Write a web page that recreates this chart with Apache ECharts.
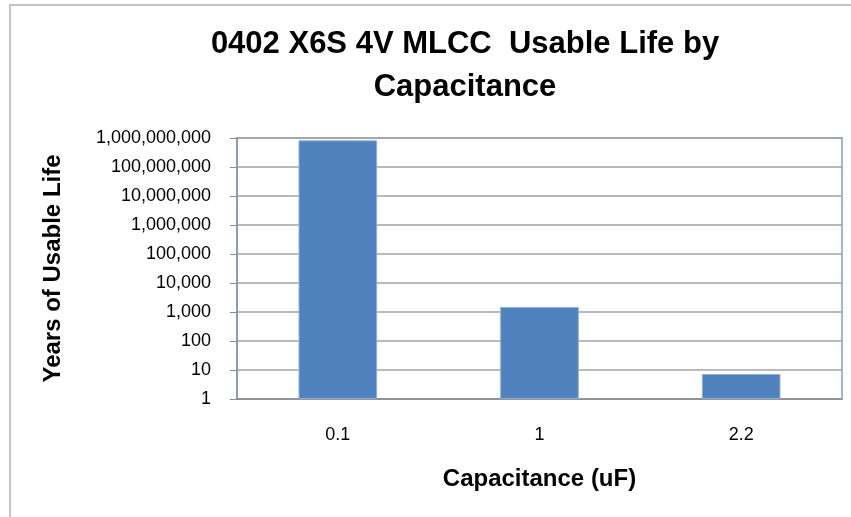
<!DOCTYPE html>
<html>
<head>
<meta charset="utf-8">
<script src="https://cdn.jsdelivr.net/npm/echarts@6/dist/echarts.min.js"></script>
<style>
    html, body { margin: 0; padding: 0; background: #fff; }
    #main { width: 851px; height: 517px; }
</style>
</head>
<body>
<div id="main"></div>
<script>
let categories = ['0.1', '1', '2.2'] // 电容 uF
let lifeYears = [830000000, 1500, 7.3] // 可用年数
let yMin = 1
let yMax = 1000000000

function renderChart() {
    var chartDom = document.getElementById('main')
    var myChart = echarts.init(chartDom)
    var font = 'Liberation Sans, Arial, sans-serif'
    var option = {
        backgroundColor: '#fff',
        animation: false,
        title: {
            text: '0402 X6S 4V MLCC  Usable Life by\nCapacitance',
            left: 460,
            top: 18,
            textAlign: 'center',
            textStyle: {
                fontFamily: font,
                fontSize: 31,
                fontWeight: 'bold',
                lineHeight: 43,
                color: '#000',
            },
        },
        graphic: [
            {
                type: 'rect',
                shape: { x: 10, y: 5, width: 900, height: 600 },
                style: { fill: 'none', stroke: '#c4c4c4', lineWidth: 2 },
                silent: true,
            },
        ],
        grid: {
            left: 237,
            top: 138,
            right: 9,
            bottom: 118,
            show: true,
            borderColor: '#9db8da',
            borderWidth: 2,
        },
        xAxis: {
            type: 'category',
            data: categories,
            name: 'Capacitance (uF)',
            nameLocation: 'middle',
            nameGap: 68,
            nameTextStyle: {
                fontFamily: font,
                fontSize: 24,
                fontWeight: 'bold',
                color: '#000',
            },
            axisLine: { lineStyle: { color: '#8c8c8c', width: 1.5 } },
            axisTick: { show: false },
            axisLabel: {
                fontFamily: font,
                fontSize: 18,
                color: '#000',
                margin: 27,
            },
        },
        yAxis: {
            type: 'log',
            logBase: 10,
            min: yMin,
            max: yMax,
            name: 'Years of Usable Life',
            nameLocation: 'middle',
            nameGap: 172,
            nameTextStyle: {
                fontFamily: font,
                fontSize: 24,
                fontWeight: 'bold',
                color: '#000',
            },
            axisLine: { show: true, lineStyle: { color: '#8a9bb3', width: 2 } },
            axisTick: { show: true, length: 7, lineStyle: { color: '#8c8c8c' } },
            splitLine: { show: true, lineStyle: { color: '#a3a3a3', width: 1.5 } },
            axisLabel: {
                fontFamily: font,
                fontSize: 18,
                color: '#000',
                margin: 26,
                formatter: function (v) {
                    return Math.round(v).toLocaleString('en-US')
                },
            },
        },
        series: [
            {
                type: 'bar',
                data: lifeYears,
                barWidth: '39%',
                itemStyle: {
                    color: '#4f81bd',
                    borderColor: '#8fb0da',
                    borderWidth: 1,
                },
            },
        ],
    }
    option && myChart.setOption(option)
}
renderChart()
</script>
</body>
</html>
